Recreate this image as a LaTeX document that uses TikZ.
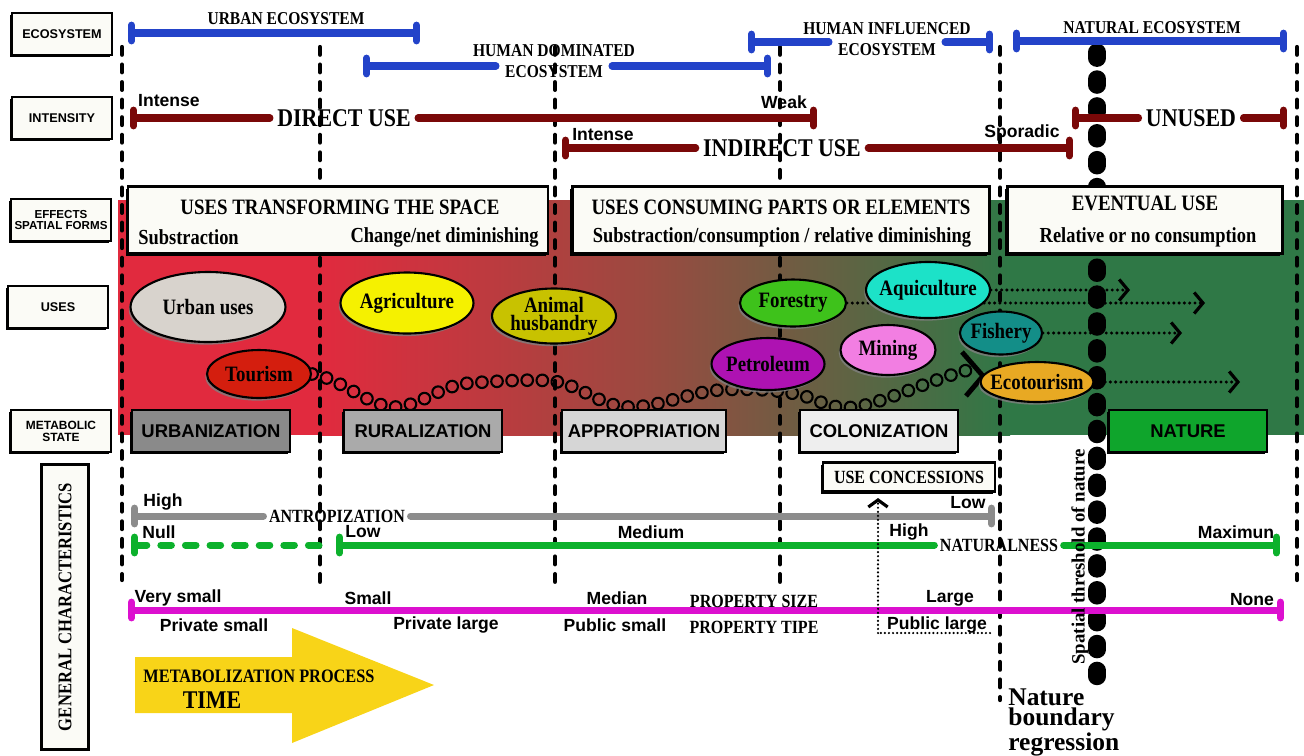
\documentclass[tikz,border=0pt]{standalone}
\usepackage{fontspec}
\setmainfont{Liberation Serif}
\setsansfont{Liberation Sans}
\newfontfamily\cnd[FakeStretch=0.86]{Liberation Serif}
\usetikzlibrary{arrows.meta,positioning,calc,shapes.geometric,shadows,decorations.markings}
\definecolor{cBlue}{HTML}{2343C9}
\definecolor{cDred}{HTML}{7A0808}
\definecolor{cGray}{HTML}{8C8C8C}
\definecolor{cGreen}{HTML}{0CB12C}
\definecolor{cMag}{HTML}{DC10CF}
\definecolor{cYel}{HTML}{F8D418}
\definecolor{cPaper}{HTML}{FBFBF6}
\definecolor{cBandR}{HTML}{E12A3E}
\definecolor{cBandM}{HTML}{9A4A40}
\definecolor{cBandG}{HTML}{2F7846}
\definecolor{cUrb}{HTML}{D8D3CD}
\definecolor{cTour}{HTML}{D41E0E}
\definecolor{cAgri}{HTML}{F5F100}
\definecolor{cAnim}{HTML}{C8C200}
\definecolor{cFor}{HTML}{3EC21B}
\definecolor{cAqu}{HTML}{1CE2C8}
\definecolor{cPet}{HTML}{AE12B2}
\definecolor{cMin}{HTML}{F27EE2}
\definecolor{cFis}{HTML}{138E88}
\definecolor{cEco}{HTML}{E8A923}
\definecolor{cUrbz}{HTML}{8A8A8A}
\definecolor{cRurz}{HTML}{AAAAAA}
\definecolor{cAppr}{HTML}{D6D6D6}
\definecolor{cColz}{HTML}{EEEEEE}
\definecolor{cNatz}{HTML}{0FA52C}
\newcommand{\fsz}[1]{\fontsize{#1}{#1}\selectfont}
\pgfdeclarelayer{bg}
\pgfdeclarelayer{mid}
\pgfsetlayers{bg,mid,main}
\tikzset{
  Tk/.tip={Bar[width=9pt,round]},
  Chev/.tip={Straight Barb[length=5pt,width=12pt,line width=1.8pt]},
  Chevs/.tip={Straight Barb[length=4pt,width=11pt,line width=1.8pt]},
  shd/.style={drop shadow={shadow xshift=-1.3pt,shadow yshift=-1.3pt,opacity=1,fill=black}},
  lbox/.style={shd,draw,line width=1.5pt,fill=cPaper,minimum width=2cm,minimum height=0.84cm,align=center,inner sep=1pt,font=\sffamily\bfseries\fsz{7.2}},
  ebox/.style={shd,draw,line width=1.6pt,fill=cPaper,minimum height=1.34cm},
  btit/.style={font=\cnd\bfseries\fsz{12.5},inner sep=0pt},
  bsub/.style={font=\cnd\bfseries\fsz{12.2},inner sep=0pt},
  mst/.style={shd,draw,line width=1.6pt,fill=#1,minimum width=3.16cm,minimum height=0.84cm,font=\sffamily\bfseries\fsz{10.5}},
  usel/.style={ellipse,draw,line width=1.2pt,fill=#1,inner sep=0pt,drop shadow={shadow xshift=-1pt,shadow yshift=-1.5pt,opacity=0.8}},
  ulab/.style={font=\cnd\bfseries\fontsize{12.5}{10.5}\selectfont,align=center,inner sep=0pt},
  hbar/.style={line width=4pt,draw=#1,line cap=round},
  slab/.style={font=\sffamily\bfseries\fsz{10},inner sep=0pt},
  elab/.style={font=\cnd\bfseries\fsz{10.3},inner xsep=5pt,inner ysep=1pt},
  blab/.style={font=\cnd\bfseries\fsz{14.5},inner xsep=4pt},
  clab/.style={font=\cnd\bfseries\fsz{10.6},inner xsep=3pt},
  vdash/.style={line width=2.4pt,line cap=round,dash pattern=on 4.4pt off 5.6pt},
  thresh/.style={line width=9.8pt,line cap=round,dash pattern=on 3.6pt off 11.7pt},
  dotarr/.style={line width=1.9pt,line cap=round,dash pattern=on 0pt off 3pt,-Chev},
  cdot/.style={line width=1.4pt,line cap=round,dash pattern=on 0pt off 2.3pt},
  chainc/.style={line width=1.2pt},
}
\begin{document}
\begin{tikzpicture}[x=0.02cm,y=-0.02cm]
  \useasboundingbox (0,0) rectangle (1304,755);
  % coloured band
  \begin{pgfonlayer}{bg}
    \fill[cBandR] (118,200) rectangle (320,435);
    \shade[left color=cBandR,right color=cBandM] (319,200) rectangle (650,435);
    \shade[left color=cBandM,right color=cBandG] (649,200) rectangle (1010,435);
    \fill[cBandG] (1009,200) rectangle (1304,435);
  \end{pgfonlayer}

  % row headings
  \node[lbox] (hEco) at (62,34) {ECOSYSTEM};
  \node[lbox] (hInt) at (62,118) {INTENSITY};
  \node[lbox,font=\sffamily\bfseries\fsz{6.6}] (hEff) at (61,220) {EFFECTS\\SPATIAL FORMS};
  \node[lbox] (hUse) at (58,307) {USES};
  \node[lbox,font=\sffamily\bfseries\fsz{6.8}] (hMet) at (61,431) {METABOLIC\\STATE};
  \node[draw,line width=1.8pt,fill=cPaper,rotate=90,minimum width=5.7cm,minimum height=0.94cm,
    font=\cnd\bfseries\fsz{11}] (hGen) at (65,607) {GENERAL CHARACTERISTICS};

  % ecosystem bars
  \node[elab] (uel) at (286,19) {URBAN ECOSYSTEM};
  \coordinate (ue1) at (128,33); \coordinate (ue2) at (420,33);
  \draw[hbar=cBlue,Tk-Tk] (ue1) -- (ue2);
  \node[elab] (hdt) at (554,51) {HUMAN DOMINATED};
  \node[elab] (hde) at (554,72) {ECOSYSTEM};
  \coordinate (hd1) at (363,66); \coordinate (hd2) at (771,66);
  \draw[hbar=cBlue,Tk-] (hd1) -- (hd1 -| hde.west);
  \draw[hbar=cBlue,-Tk] (hd1 -| hde.east) -- (hd2);
  \node[elab] (hit) at (887,29) {HUMAN INFLUENCED};
  \node[elab] (hie) at (887,50) {ECOSYSTEM};
  \coordinate (hi1) at (748,42); \coordinate (hi2) at (993,42);
  \draw[hbar=cBlue,Tk-] (hi1) -- (hi1 -| hie.west);
  \draw[hbar=cBlue,-Tk] (hi1 -| hie.east) -- (hi2);
  \node[elab] (nel) at (1152,28) {NATURAL ECOSYSTEM};
  \coordinate (ne1) at (1013,41); \coordinate (ne2) at (1287,41);
  \draw[hbar=cBlue,Tk-Tk] (ne1) -- (ne2);

  % intensity bars
  \node[blab] (dul) at (344,118) {DIRECT USE};
  \coordinate (du1) at (130,118); \coordinate (du2) at (817,118);
  \draw[hbar=cDred,Tk-] (du1) -- (dul.west);
  \draw[hbar=cDred,-Tk] (dul.east) -- (du2);
  \node[slab] (duh) at (169,101) {Intense};
  \node[slab] (dul2) at (784,102) {Weak};
  \node[blab] (iul) at (782,148) {INDIRECT USE};
  \coordinate (iu1) at (562,148); \coordinate (iu2) at (1073,148);
  \draw[hbar=cDred,Tk-] (iu1) -- (iul.west);
  \draw[hbar=cDred,-Tk] (iul.east) -- (iu2);
  \node[slab] (iuh) at (603,135) {Intense};
  \node[slab] (iul2) at (1022,133) {Sporadic};
  \node[blab] (unl) at (1191,118) {UNUSED};
  \coordinate (un1) at (1072,118); \coordinate (un2) at (1287,118);
  \draw[hbar=cDred,Tk-] (un1) -- (unl.west);
  \draw[hbar=cDred,-Tk] (unl.east) -- (un2);

  % effects
  \node[ebox,minimum width=8.4cm] (ef1) at (338,220) {};
  \node[btit] (ef1t) at (340,207) {USES TRANSFORMING THE SPACE};
  \node[bsub,anchor=west] (ef1a) at (138,237) {Substraction};
  \node[bsub,anchor=east] (ef1b) at (539,237) {Change/net diminishing};
  \node[ebox,minimum width=8.34cm] (ef2) at (781,220) {};
  \node[btit] (ef2t) at (781,207) {USES CONSUMING PARTS OR ELEMENTS};
  \node[bsub] (ef2a) at (782,237) {Substraction/consumption / relative diminishing};
  \node[ebox,minimum width=5.5cm] (ef3) at (1145,220) {};
  \node[btit] (ef3t) at (1145,203) {EVENTUAL USE};
  \node[bsub] (ef3a) at (1148,237) {Relative or no consumption};

  % uses
  \node[usel=cUrb,minimum width=3.1cm,minimum height=1.4cm,label={[ulab]center:Urban uses}] (urb) at (208,307) {};
  \node[usel=cTour,minimum width=2.08cm,minimum height=0.96cm,label={[ulab]center:Tourism}] (tour) at (259,374) {};
  \node[usel=cAgri,minimum width=2.66cm,minimum height=1.22cm,label={[ulab]center:Agriculture}] (agr) at (407,303) {};
  \node[usel=cAnim,minimum width=2.48cm,minimum height=1.1cm,label={[ulab]center:{Animal\\husbandry}}] (ani) at (554,316) {};
  \node[usel=cFor,minimum width=2.12cm,minimum height=0.94cm,label={[ulab]center:Forestry}] (for) at (793,303) {};
  \node[usel=cAqu,minimum width=2.48cm,minimum height=1.12cm,label={[ulab]center:Aquiculture}] (aqu) at (928,290) {};
  \node[usel=cPet,minimum width=2.26cm,minimum height=1.04cm,label={[ulab]center:Petroleum}] (pet) at (768,364) {};
  \node[usel=cMin,minimum width=1.9cm,minimum height=1.0cm,label={[ulab]center:Mining}] (min) at (888,350) {};
  \node[usel=cFis,minimum width=1.64cm,minimum height=0.86cm,label={[ulab]center:Fishery}] (fis) at (1001,333) {};
  \node[usel=cEco,minimum width=2.26cm,minimum height=0.8cm,label={[ulab]center:Ecotourism}] (eco) at (1037,382) {};

  % metabolic states
  \node[mst=cUrbz] (urbz) at (211,431) {URBANIZATION};
  \node[mst=cRurz] (rurz) at (423,431) {RURALIZATION};
  \node[mst=cAppr] (appr) at (644,431) {APPROPRIATION};
  \node[mst=cColz] (colz) at (879,431) {COLONIZATION};
  \node[mst=cNatz] (natz) at (1188,431) {NATURE};

  % general characteristics
  \node[shd,draw,line width=1.4pt,fill=cPaper,minimum width=3.44cm,minimum height=0.58cm,
    font=\cnd\bfseries\fsz{10.6}] (uc) at (909,477) {USE CONCESSIONS};
  \node[clab] (anl) at (337,516) {ANTROPIZATION};
  \coordinate (an1) at (131,516); \coordinate (an2) at (995,516);
  \draw[hbar=cGray,Tk-] (an1) -- (anl.west);
  \draw[hbar=cGray,-Tk] (anl.east) -- (an2);
  \node[slab] (anh) at (163,502) {High};
  \node[slab] (anw) at (968,503) {Low};
  \node[clab] (nal) at (999,545) {NATURALNESS};
  \coordinate (na1) at (131,545); \coordinate (na0) at (330,545);
  \coordinate (na3) at (336,545); \coordinate (na2) at (1280,545);
  \draw[hbar=cGreen,Tk-,dash pattern=on 6pt off 8pt] (na1) -- (na0);
  \draw[hbar=cGreen,Tk-] (na3) -- (nal.west);
  \draw[hbar=cGreen,-Tk] (nal.east) -- (na2);
  \node[slab] (nan) at (159,532) {Null};
  \node[slab] (nalo) at (363,532) {Low};
  \node[slab] (name) at (651,532) {Medium};
  \node[slab] (nahi) at (909,532) {High};
  \node[slab] (namx) at (1236,532) {Maximun};
  \coordinate (pr1) at (128,610); \coordinate (pr2) at (1284,610);
  \draw[hbar=cMag,Tk-Tk] (pr1) -- (pr2);
  \node[slab] (ps1) at (178,598) {Very small};
  \node[slab] (ps2) at (368,598) {Small};
  \node[slab] (ps3) at (617,598) {Median};
  \node[clab] (psz) at (754,601) {PROPERTY SIZE};
  \node[slab] (ps4) at (950,598) {Large};
  \node[slab] (ps5) at (1252,600) {None};
  \node[slab] (pt1) at (214,625) {Private small};
  \node[slab] (pt2) at (446,625) {Private large};
  \node[slab] (pt3) at (615,625) {Public small};
  \node[clab] (ptp) at (754,627) {PROPERTY TIPE};
  \node[slab] (pt4) at (937,625) {Public large};
  \coordinate (pc) at (878,633); \coordinate (pe) at (990,633);
  \draw[cdot] (pe) -- (pc);
  \draw[cdot,-Chevs,shorten >=3pt] (pc) -- (pc |- uc.south);

  % time arrow
  \fill[cYel] (135,657) -- (292,657) -- (292,628) -- (434,685) -- (292,743) -- (292,713) -- (135,713) -- cycle;
  \node[font=\cnd\bfseries\fsz{10.8}] (mp) at (259,676) {METABOLIZATION PROCESS};
  \node[font=\cnd\bfseries\fsz{14.5}] (tm) at (212,700) {TIME};

  % nature limits
  \node[font=\bfseries\fsz{10.7},rotate=90,inner sep=0pt] (spt) at (1080,557) {Spatial threshold of nature};
  \node[anchor=north west,align=left,inner sep=0pt,font=\bfseries\fontsize{14.5}{11.8}\selectfont] (nbr) at (1008,688) {Nature\\boundary\\regression};

  \begin{pgfonlayer}{mid}
    \foreach \x/\b in {122/580,320/585,555/585,780/585,1000/700,1297/580}
      \draw[vdash] (\x,47) -- (\x,\b);
    \draw[thresh] (1097,52) -- (1097,690);
    \coordinate (aqe) at (1130,290); \coordinate (fore) at (1205,303);
    \coordinate (fise) at (1182,333); \coordinate (ecoe) at (1240,382);
    \draw[dotarr] (for.east) -- (for.east -| fore);
    \draw[dotarr] (aqu.east) -- (aqu.east -| aqe);
    \draw[dotarr] (fis.east) -- (fis.east -| fise);
    \draw[dotarr] (eco.east) -- (eco.east -| ecoe);
    \coordinate (chn) at (968,370);
    \path[decorate,decoration={markings,mark=between positions 0 and 1 step 8.6pt with {\draw[chainc] (0,0) circle (3.3pt);}}]
      (tour.east) .. controls (340,378) and (370,407) .. (394,407)
      .. controls (420,407) and (440,385) .. (470,383)
      .. controls (500,381) and (530,379) .. (552,381)
      .. controls (580,384) and (600,407) .. (630,407)
      .. controls (660,407) and (690,392) .. (720,390)
      .. controls (750,388) and (790,390) .. (810,398)
      .. controls (830,406) and (840,409) .. (855,407)
      .. controls (880,404) and (930,380) .. (chn);
    \draw[line width=2.8pt] ($(chn)+(-6,-18)$) -- ($(chn)+(15,6)$) -- ($(chn)+(-2,26)$);
  \end{pgfonlayer}
\end{tikzpicture}
\end{document}
